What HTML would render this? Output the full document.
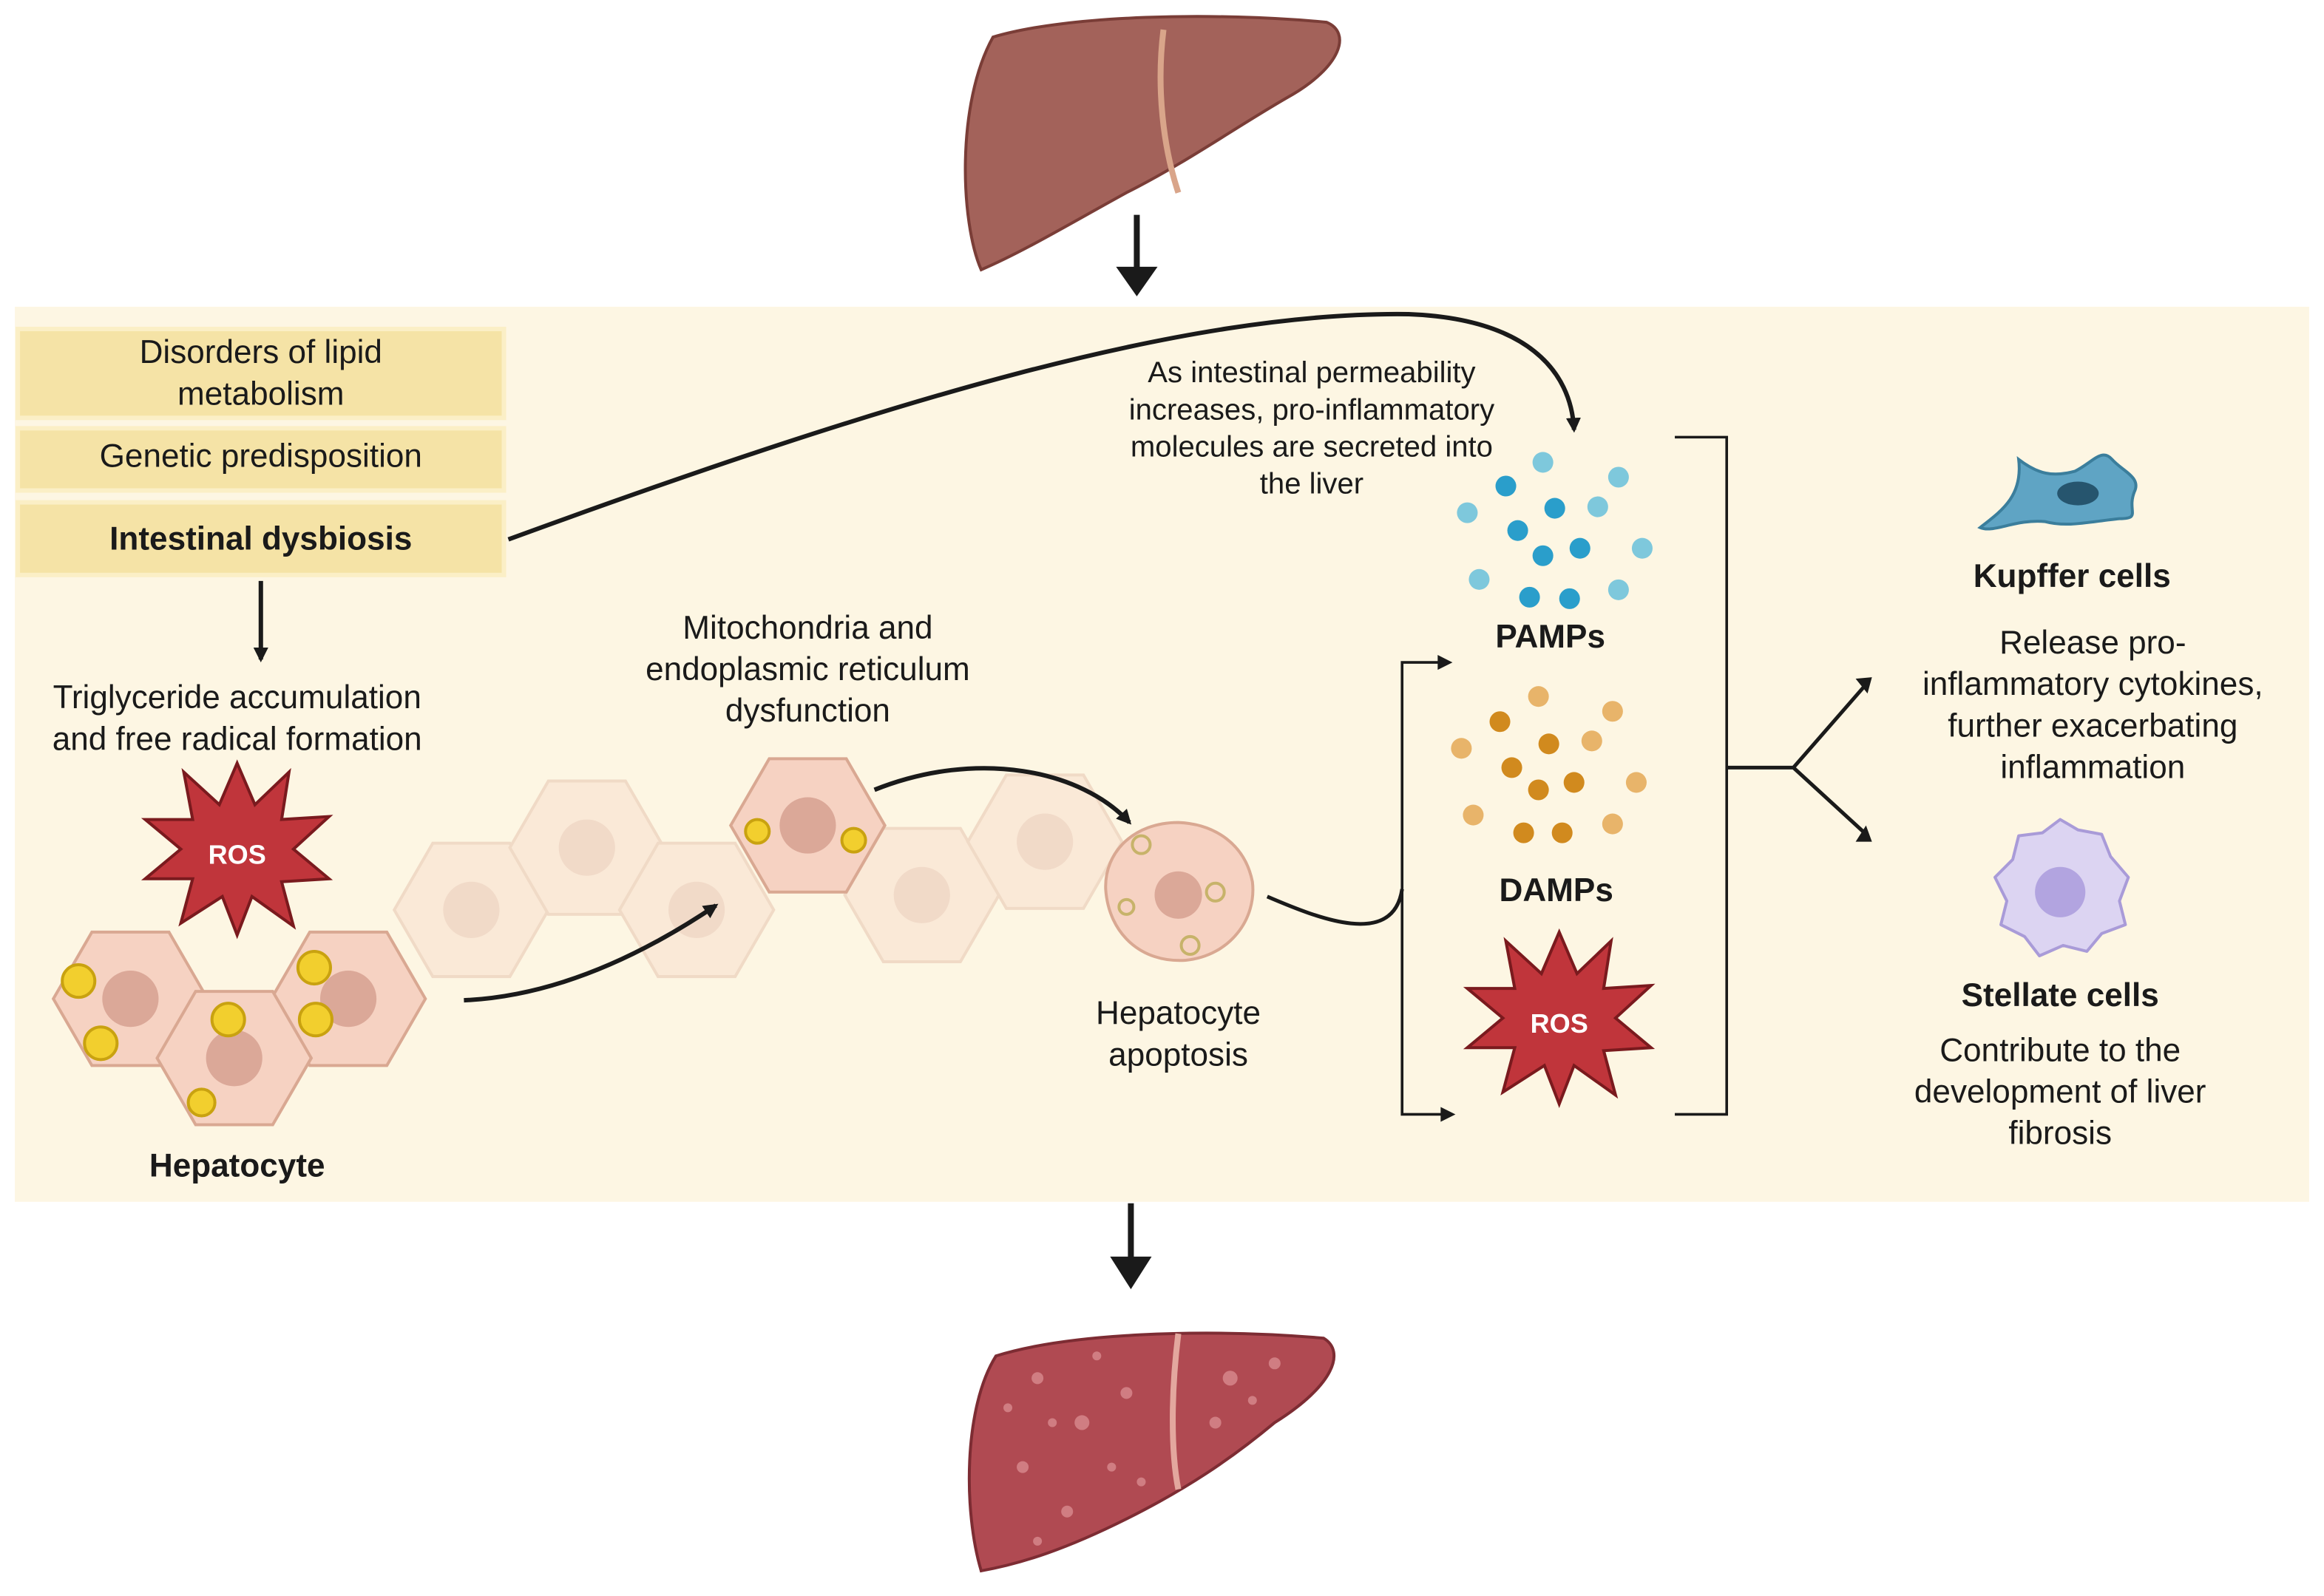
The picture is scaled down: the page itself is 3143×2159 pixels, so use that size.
<!DOCTYPE html>
<html><head><meta charset="utf-8"><style>
html,body{margin:0;padding:0;background:#fff}
svg{display:block}
text{font-family:"Liberation Sans",sans-serif;fill:#1a1a1a}
</style></head><body>
<svg width="3143" height="2159" viewBox="0 0 1568 1077" preserveAspectRatio="none" xmlns="http://www.w3.org/2000/svg">
<defs>
<marker id="ah" markerWidth="10" markerHeight="10" refX="8" refY="5" orient="auto" markerUnits="userSpaceOnUse"><path d="M0,0 L10,5 L0,10 Z" fill="#1a1a1a"/></marker>
<g id="hex"><path d="M-26,-45 L26,-45 L52,0 L26,45 L-26,45 L-52,0 Z" fill="#f6d2c2" stroke="#d9a892" stroke-width="2"/><circle r="19" fill="#dba898"/></g>
<g id="star"><path d="M0,-58 L12,-30 L35,-52 L30,-20 L62,-22 L38,0 L62,20 L30,22 L38,52 L10,32 L0,58 L-10,32 L-38,50 L-30,20 L-62,20 L-38,0 L-62,-20 L-30,-20 L-36,-52 L-12,-30 Z" fill="#c0353b" stroke="#7a1a1e" stroke-width="2"/></g>
</defs>
<rect width="1568" height="1077" fill="#fff"/>
<!-- top liver -->
<path d="M670,25 C720,10 820,8 895,15 C912,22 905,45 870,65 C835,85 800,110 760,130 C720,152 690,170 662,182 C648,150 645,70 670,25 Z" fill="#a3625a" stroke="#7a3d37" stroke-width="2"/>
<path d="M785,20 C780,60 785,100 795,130" stroke="#d9a58a" stroke-width="4" fill="none"/>
<line x1="767" y1="145" x2="767" y2="190" stroke="#1a1a1a" stroke-width="4"/>
<path d="M753,180 L781,180 L767,200 Z" fill="#1a1a1a"/>
<!-- panel -->
<rect x="10" y="207" width="1548" height="604" fill="#fdf6e3"/>
<rect x="12" y="222" width="328" height="60" fill="#f5e3a6" stroke="#fbefc6" stroke-width="3"/>
<rect x="12" y="289" width="328" height="42" fill="#f5e3a6" stroke="#fbefc6" stroke-width="3"/>
<rect x="12" y="339" width="328" height="49" fill="#f5e3a6" stroke="#fbefc6" stroke-width="3"/>
<g font-size="22" text-anchor="middle">
<text x="176" y="245">Disorders of lipid</text>
<text x="176" y="273">metabolism</text>
<text x="176" y="315">Genetic predisposition</text>
<text x="176" y="371" font-weight="bold">Intestinal dysbiosis</text>
<text x="160" y="478">Triglyceride accumulation</text>
<text x="160" y="506">and free radical formation</text>
<text x="545" y="431">Mitochondria and</text>
<text x="545" y="459">endoplasmic reticulum</text>
<text x="545" y="487">dysfunction</text>
<text x="885" y="258" font-size="20">As intestinal permeability</text>
<text x="885" y="283" font-size="20">increases, pro-inflammatory</text>
<text x="885" y="308" font-size="20">molecules are secreted into</text>
<text x="885" y="333" font-size="20">the liver</text>
<text x="1046" y="437" font-weight="bold">PAMPs</text>
<text x="1050" y="608" font-weight="bold">DAMPs</text>
<text x="795" y="691">Hepatocyte</text>
<text x="795" y="719">apoptosis</text>
<text x="160" y="794" font-weight="bold">Hepatocyte</text>
<text x="1398" y="396" font-weight="bold">Kupffer cells</text>
<text x="1412" y="441">Release pro-</text>
<text x="1412" y="469">inflammatory cytokines,</text>
<text x="1412" y="497">further exacerbating</text>
<text x="1412" y="525">inflammation</text>
<text x="1390" y="679" font-weight="bold">Stellate cells</text>
<text x="1390" y="716">Contribute to the</text>
<text x="1390" y="744">development of liver</text>
<text x="1390" y="772">fibrosis</text>
</g>
<!-- arrows -->
<line x1="176" y1="392" x2="176" y2="445" stroke="#1a1a1a" stroke-width="3" marker-end="url(#ah)"/>
<path d="M343,364 C600,270 800,210 950,212 C1030,215 1060,250 1062,290" stroke="#1a1a1a" stroke-width="3" fill="none" marker-end="url(#ah)"/>
<!-- hexagon cells faded -->
<g opacity="0.35"><use href="#hex" x="318" y="614"/><use href="#hex" x="396" y="572"/><use href="#hex" x="470" y="614"/><use href="#hex" x="622" y="604"/><use href="#hex" x="705" y="568"/></g>
<use href="#hex" x="545" y="557"/>
<use href="#hex" x="88" y="674"/><use href="#hex" x="235" y="674"/><use href="#hex" x="158" y="714"/>
<g fill="#f2cf2e" stroke="#c9a210" stroke-width="2">
<circle cx="53" cy="662" r="11"/><circle cx="68" cy="704" r="11"/><circle cx="212" cy="653" r="11"/><circle cx="213" cy="688" r="11"/><circle cx="154" cy="688" r="11"/><circle cx="136" cy="744" r="9"/><circle cx="511" cy="561" r="8"/><circle cx="576" cy="567" r="8"/>
</g>
<path d="M795,555 C820,556 840,570 845,595 C848,620 830,645 800,648 C770,650 748,630 746,600 C745,575 765,555 795,555 Z" fill="#f6d2c2" stroke="#d9a892" stroke-width="2"/><circle cx="795" cy="604" r="16" fill="#dba898"/>
<g fill="none" stroke="#c7b36a" stroke-width="2"><circle cx="770" cy="570" r="6"/><circle cx="820" cy="602" r="6"/><circle cx="803" cy="638" r="6"/><circle cx="760" cy="612" r="5"/></g>
<path d="M313,675 C380,672 440,640 483,611" stroke="#1a1a1a" stroke-width="3" fill="none" marker-end="url(#ah)"/>
<path d="M590,533 C660,505 730,520 762,555" stroke="#1a1a1a" stroke-width="3" fill="none" marker-end="url(#ah)"/>
<path d="M855,605 C890,620 940,640 946,600" stroke="#1a1a1a" stroke-width="2.5" fill="none"/>
<path d="M975,447 L946,447 L946,752 L978,752" stroke="#1a1a1a" stroke-width="1.8" fill="none"/>
<path d="M970,442 L980,447 L970,452 Z M972,747 L982,752 L972,757 Z" fill="#1a1a1a"/>
<path d="M1130,295 L1165,295 L1165,752 L1130,752" stroke="#1a1a1a" stroke-width="1.8" fill="none"/>
<path d="M1165,518 L1210,518 L1258,463 M1210,518 L1258,562" stroke="#1a1a1a" stroke-width="2.5" fill="none"/>
<path d="M1252,458 L1263,457 L1260,468 Z M1252,568 L1263,568 L1259,557 Z" fill="#1a1a1a"/>
<!-- PAMPs -->
<g fill="#7ec8dc"><circle cx="1041" cy="312" r="7"/><circle cx="1092" cy="322" r="7"/><circle cx="990" cy="346" r="7"/><circle cx="1078" cy="342" r="7"/><circle cx="998" cy="391" r="7"/><circle cx="1108" cy="370" r="7"/><circle cx="1092" cy="398" r="7"/></g>
<g fill="#2a9ecb"><circle cx="1016" cy="328" r="7"/><circle cx="1024" cy="358" r="7"/><circle cx="1049" cy="343" r="7"/><circle cx="1041" cy="375" r="7"/><circle cx="1066" cy="370" r="7"/><circle cx="1032" cy="403" r="7"/><circle cx="1059" cy="404" r="7"/></g>
<!-- DAMPs -->
<g fill="#e8b46a"><circle cx="1038" cy="470" r="7"/><circle cx="1088" cy="480" r="7"/><circle cx="986" cy="505" r="7"/><circle cx="1074" cy="500" r="7"/><circle cx="994" cy="550" r="7"/><circle cx="1104" cy="528" r="7"/><circle cx="1088" cy="556" r="7"/></g>
<g fill="#d18a1e"><circle cx="1012" cy="487" r="7"/><circle cx="1020" cy="518" r="7"/><circle cx="1045" cy="502" r="7"/><circle cx="1038" cy="533" r="7"/><circle cx="1062" cy="528" r="7"/><circle cx="1028" cy="562" r="7"/><circle cx="1054" cy="562" r="7"/></g>
<use href="#star" x="160" y="573"/>
<text x="160" y="583" text-anchor="middle" font-size="18" font-weight="bold" style="fill:#fff">ROS</text>
<use href="#star" x="1052" y="687"/>
<text x="1052" y="697" text-anchor="middle" font-size="18" font-weight="bold" style="fill:#fff">ROS</text>
<!-- Kupffer -->
<path d="M1336,356 C1350,345 1365,335 1362,310 C1375,320 1385,322 1400,318 C1412,312 1418,302 1425,310 C1432,318 1445,322 1440,332 C1435,345 1445,350 1430,350 C1410,352 1395,356 1380,352 C1360,350 1345,360 1336,356 Z" fill="#5fa4c4" stroke="#3b7e9c" stroke-width="2"/>
<ellipse cx="1402" cy="333" rx="14" ry="8" fill="#26556e"/>
<!-- stellate -->
<path d="M1390,553 L1402,560 L1418,563 L1424,578 L1436,592 L1430,608 L1434,624 L1418,630 L1408,642 L1392,638 L1376,645 L1366,632 L1350,624 L1354,608 L1346,592 L1358,580 L1362,564 L1378,562 Z" fill="#dcd4f2" stroke="#a99bd8" stroke-width="2" stroke-linejoin="round"/>
<circle cx="1390" cy="602" r="17" fill="#b2a4e0"/>
<!-- bottom arrow & liver -->
<line x1="763" y1="812" x2="763" y2="855" stroke="#1a1a1a" stroke-width="4"/>
<path d="M749,848 L777,848 L763,870 Z" fill="#1a1a1a"/>
<path d="M672,915 C720,900 810,896 893,903 C908,912 900,935 860,960 C830,985 800,1005 760,1025 C720,1045 690,1055 662,1060 C650,1020 650,950 672,915 Z" fill="#b04a52" stroke="#7d2c33" stroke-width="2"/>
<path d="M795,900 C790,940 790,980 795,1005" stroke="#e3a79e" stroke-width="4" fill="none"/>
<g fill="#d98a8e" opacity="0.8"><circle cx="700" cy="930" r="4"/><circle cx="730" cy="960" r="5"/><circle cx="690" cy="990" r="4"/><circle cx="760" cy="940" r="4"/><circle cx="830" cy="930" r="5"/><circle cx="860" cy="920" r="4"/><circle cx="720" cy="1020" r="4"/><circle cx="750" cy="990" r="3"/><circle cx="680" cy="950" r="3"/><circle cx="820" cy="960" r="4"/><circle cx="710" cy="960" r="3"/><circle cx="740" cy="915" r="3"/><circle cx="845" cy="945" r="3"/><circle cx="700" cy="1040" r="3"/><circle cx="770" cy="1000" r="3"/></g>
</svg>
</body></html>
